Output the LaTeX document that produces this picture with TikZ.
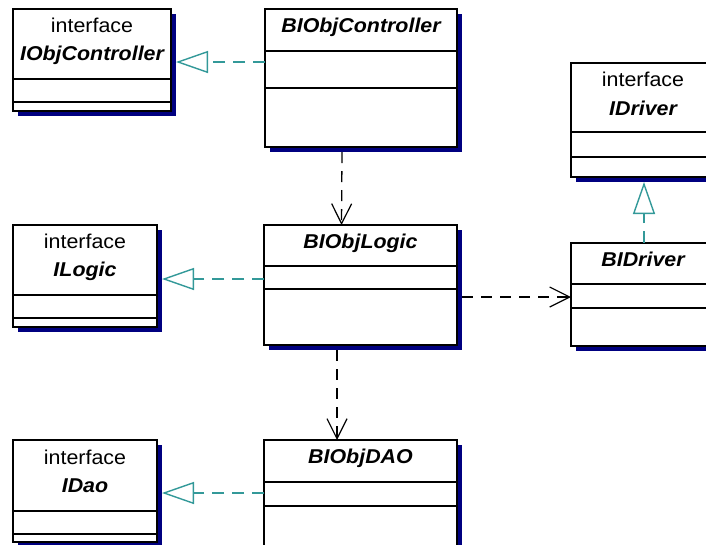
\documentclass[tikz,border=0pt]{standalone}
\usepackage{fontspec}
\usepackage{graphicx}
\setmainfont{Liberation Sans}
\usetikzlibrary{arrows.meta}
\definecolor{shadowc}{RGB}{0,0,128}
\definecolor{realc}{RGB}{51,153,153}
\newcommand{\umlbox}[7]{%
  \fill[shadowc] (#2+5,#3+5) rectangle ++(#4,#5);
  \node[classbox, minimum width=#4pt, minimum height=#5pt] (#1) at (#2+#4/2,#3+#5/2) {};
  \draw[sepline] ([yshift=-#6pt]#1.north west) -- ([yshift=-#6pt]#1.north east);
  \draw[sepline] ([yshift=-#7pt]#1.north west) -- ([yshift=-#7pt]#1.north east);
}
\newcommand{\wide}[1]{\scalebox{1.07}[1]{#1}}
\tikzset{
  classbox/.style={draw=black, fill=white, line width=1.6pt, inner sep=0pt, outer sep=0pt},
  sepline/.style={line width=1.6pt},
  stereo/.style={font=\fontsize{20}{24}\selectfont, anchor=base, inner sep=0pt},
  cname/.style={font=\fontsize{20}{24}\selectfont\bfseries\itshape, anchor=base, inner sep=0pt},
  dep/.style={line width=1.3pt, dash pattern=on 11pt off 8pt,
    -{Straight Barb[length=20pt, width=20pt, line width=1.2pt]}},
  realize/.style={draw=realc, line width=1.4pt, dash pattern=on 12pt off 8pt,
    -{Triangle[open, length=32pt, width=22pt, line width=1.4pt]}}
}
\begin{document}
\begin{tikzpicture}[x=1pt, y=-1pt]
\useasboundingbox (0,0) rectangle (706,544);
\clip (0,0) rectangle (706,544);
\fill[white] (0,0) rectangle (706,544);

% class boxes
\umlbox{ictrl}{13}{9}{158}{102}{70}{93}
\umlbox{ctrl}{265}{9}{192}{138}{42}{79}
\umlbox{ilogic}{13}{225}{144}{102}{70}{93}
\umlbox{logic}{264}{225}{193}{120}{41}{64}
\umlbox{idao}{13}{440}{144}{102}{71}{94}
\umlbox{dao}{264}{440}{193}{130}{42}{66}
\umlbox{idriver}{571}{63}{144}{114}{69}{94}
\umlbox{driver}{571}{243}{144}{103}{41}{65}

% texts
\node[stereo] (ictrl-st) at ([yshift=-23pt]ictrl.north) {\wide{interface}};
\node[cname] (ictrl-nm) at ([yshift=-51pt]ictrl.north) {\wide{IObjController}};
\node[cname] (ctrl-nm) at ([yshift=-23pt]ctrl.north) {\wide{BIObjController}};
\node[stereo] (ilogic-st) at ([yshift=-23pt]ilogic.north) {\wide{interface}};
\node[cname] (ilogic-nm) at ([yshift=-51pt]ilogic.north) {\wide{ILogic}};
\node[cname] (logic-nm) at ([yshift=-23pt]logic.north) {\wide{BIObjLogic}};
\node[stereo] (idao-st) at ([yshift=-24pt]idao.north) {\wide{interface}};
\node[cname] (idao-nm) at ([yshift=-52pt]idao.north) {\wide{IDao}};
\node[cname] (dao-nm) at ([yshift=-23pt]dao.north) {\wide{BIObjDAO}};
\node[stereo] (idriver-st) at ([yshift=-23pt]idriver.north) {\wide{interface}};
\node[cname] (idriver-nm) at ([yshift=-52pt]idriver.north) {\wide{IDriver}};
\node[cname] (driver-nm) at ([yshift=-23pt]driver.north) {\wide{BIDriver}};

% realizations
\coordinate (t1) at ([xshift=5pt,yshift=-2pt]ictrl.east);
\draw[realize] (t1 -| ctrl.west) -- (t1);
\coordinate (t2) at ([xshift=5pt,yshift=-3pt]ilogic.east);
\draw[realize] (t2 -| logic.west) -- (t2);
\coordinate (t3) at ([xshift=5pt,yshift=-2pt]idao.east);
\draw[realize] (t3 -| dao.west) -- (t3);
\coordinate (t4) at ([xshift=1pt,yshift=-5pt]idriver.south);
\draw[realize] (t4 |- driver.north) -- (t4);

% dependencies
\draw[dep] ([xshift=-19pt,yshift=-5pt]ctrl.south) -- ([xshift=-19pt]logic.north);
\draw[dep] ([xshift=-23.5pt,yshift=-5pt]logic.south) -- ([xshift=-23.5pt]dao.north);
\coordinate (d1) at ([xshift=5pt,yshift=-12pt]logic.east);
\draw[dep] (d1) -- (d1 -| driver.west);
\end{tikzpicture}
\end{document}
